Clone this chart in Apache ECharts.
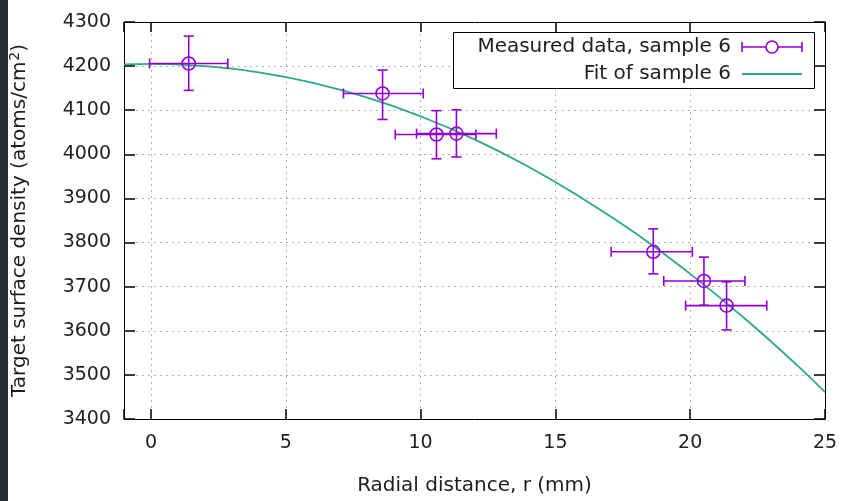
<!DOCTYPE html>
<html>
<head>
<meta charset="utf-8">
<script src="https://cdn.jsdelivr.net/npm/echarts@6/dist/echarts.min.js"></script>
<style>
html,body{margin:0;padding:0;background:#fff;}
#strip{position:absolute;left:0;top:0;width:8px;height:501px;background:#272b33;}
#c{position:absolute;left:0;top:0;width:841px;height:501px;}
</style>
</head>
<body>
<div id="c"></div>
<div id="strip"></div>
<script>
// Measured data (sample 6)
const measX    = [1.40, 8.59, 10.59, 11.33, 18.63, 20.51, 21.35];
const measY    = [4206, 4138, 4045, 4047, 3779, 3713, 3657];
const measXLow = [-0.05, 7.14, 9.06, 9.85, 17.07, 19.02, 19.83];
const measXHigh= [2.85, 10.10, 12.05, 12.81, 20.08, 22.03, 22.84];
const measYLow = [4145, 4079, 3990, 3994, 3729, 3658, 3602];
const measYHigh= [4268, 4191, 4099, 4101, 3831, 3767, 3711];

// Fit curve
const fitX = [-1, 0, 2, 4, 6, 8, 10, 12, 14, 16, 18, 20, 22, 24, 25];
const fitY = [4204, 4205, 4200, 4186, 4162, 4129, 4086, 4034, 3972, 3900, 3820, 3729, 3629, 3520, 3461];

const xTicks = [0, 5, 10, 15, 20, 25];
const yTicks = [3400, 3500, 3600, 3700, 3800, 3900, 4000, 4100, 4200, 4300];

const PURPLE = '#9400d3';
const GREEN = '#2aa98a';
const FONT = 'DejaVu Sans';
const TXT = '#1e1e1e';

const chart = echarts.init(document.getElementById('c'), null, {renderer: 'canvas'});

const errData = measX.map((x, i) => [x, measY[i], measXLow[i], measXHigh[i], measYLow[i], measYHigh[i]]);

function renderErr(params, api) {
  const c = api.coord([api.value(0), api.value(1)]);
  const xl = api.coord([api.value(2), api.value(1)]);
  const xh = api.coord([api.value(3), api.value(1)]);
  const yl = api.coord([api.value(0), api.value(4)]);
  const yh = api.coord([api.value(0), api.value(5)]);
  const cap = 5;
  const st = {stroke: PURPLE, lineWidth: 1.6};
  return {
    type: 'group',
    children: [
      {type: 'line', shape: {x1: xl[0], y1: c[1], x2: xh[0], y2: c[1]}, style: st},
      {type: 'line', shape: {x1: xl[0], y1: c[1]-cap, x2: xl[0], y2: c[1]+cap}, style: st},
      {type: 'line', shape: {x1: xh[0], y1: c[1]-cap, x2: xh[0], y2: c[1]+cap}, style: st},
      {type: 'line', shape: {x1: c[0], y1: yl[1], x2: c[0], y2: yh[1]}, style: st},
      {type: 'line', shape: {x1: c[0]-cap, y1: yl[1], x2: c[0]+cap, y2: yl[1]}, style: st},
      {type: 'line', shape: {x1: c[0]-cap, y1: yh[1], x2: c[0]+cap, y2: yh[1]}, style: st}
    ]
  };
}

const gridL = 123, gridT = 22, gridR = 16, gridB = 82;

const axLine = {show: true, onZero: false, lineStyle: {color: '#000', width: 1}};

const option = {
  animation: false,
  backgroundColor: '#ffffff',
  textStyle: {fontFamily: FONT},
  grid: {left: gridL, top: gridT, right: gridR, bottom: gridB, containLabel: false},
  xAxis: [{
    type: 'value', min: -1, max: 25, splitNumber: 5,
    name: 'Radial distance, r (mm)', nameLocation: 'middle', nameGap: 57,
    nameTextStyle: {fontFamily: FONT, fontSize: 20, color: TXT},
    axisLine: axLine,
    axisTick: {show: true, inside: true, length: 10, lineStyle: {color: '#000', width: 1.5}},
    axisLabel: {fontFamily: FONT, fontSize: 19, color: TXT, margin: 15,
      formatter: v => (xTicks.indexOf(v) >= 0 ? String(v) : '')},
    splitLine: {show: true, lineStyle: {color: '#b4b4b4', type: [2, 4], width: 1}}
  }, {
    type: 'value', min: -1, max: 25, splitNumber: 5, position: 'top',
    axisLine: axLine,
    axisTick: {show: true, inside: true, length: 10, lineStyle: {color: '#000', width: 1.5}},
    axisLabel: {show: false}, splitLine: {show: false}
  }],
  yAxis: [{
    type: 'value', min: 3400, max: 4300, interval: 100,
    name: 'Target surface density (atoms/cm{sup|2})', nameLocation: 'middle', nameGap: 92, nameRotate: 90,
    nameTextStyle: {fontFamily: FONT, fontSize: 20, color: TXT, lineHeight: 24,
      rich: {sup: {fontFamily: FONT, fontSize: 14, color: TXT, verticalAlign: 'top', lineHeight: 24, padding: [0, 0, 8, 1]}}},
    axisLine: axLine,
    axisTick: {show: true, inside: true, length: 11, lineStyle: {color: '#000', width: 1.5}},
    axisLabel: {fontFamily: FONT, fontSize: 19, color: TXT, margin: 13,
      formatter: v => (yTicks.indexOf(v) >= 0 ? String(v) : '')},
    splitLine: {show: true, lineStyle: {color: '#b4b4b4', type: [2, 4], width: 1}}
  }, {
    type: 'value', min: 3400, max: 4300, interval: 100, position: 'right',
    axisLine: axLine,
    axisTick: {show: true, inside: true, length: 11, lineStyle: {color: '#000', width: 1.5}},
    axisLabel: {show: false}, splitLine: {show: false}
  }],
  series: [{
    name: 'Fit of sample 6', type: 'line', smooth: true, showSymbol: false,
    data: fitX.map((x, i) => [x, fitY[i]]),
    lineStyle: {color: GREEN, width: 1.8}, z: 2
  }, {
    name: 'Measured data, sample 6 (error)', type: 'custom', renderItem: renderErr,
    data: errData, encode: {x: 0, y: 1}, z: 3
  }, {
    name: 'Measured data, sample 6', type: 'scatter', symbol: 'circle', symbolSize: 13,
    data: measX.map((x, i) => [x, measY[i]]),
    itemStyle: {color: 'rgba(0,0,0,0)', borderColor: PURPLE, borderWidth: 1.6, opacity: 1}, z: 4
  }],
  graphic: [
    {type: 'rect', shape: {x: 453.5, y: 32.5, width: 361, height: 56},
     style: {fill: '#fff', stroke: '#000', lineWidth: 1}, z: 100},
    {type: 'text', x: 731, y: 47, z: 101,
     style: {text: 'Measured data, sample 6', font: '20px "DejaVu Sans"', fill: TXT, align: 'right', verticalAlign: 'middle'}},
    {type: 'text', x: 731, y: 74, z: 101,
     style: {text: 'Fit of sample 6', font: '20px "DejaVu Sans"', fill: TXT, align: 'right', verticalAlign: 'middle'}},
    {type: 'line', shape: {x1: 742, y1: 47, x2: 802, y2: 47}, style: {stroke: PURPLE, lineWidth: 1.6}, z: 101},
    {type: 'line', shape: {x1: 742, y1: 42, x2: 742, y2: 52}, style: {stroke: PURPLE, lineWidth: 1.6}, z: 101},
    {type: 'line', shape: {x1: 802, y1: 42, x2: 802, y2: 52}, style: {stroke: PURPLE, lineWidth: 1.6}, z: 101},
    {type: 'circle', shape: {cx: 772, cy: 47, r: 6}, style: {fill: '#fff', stroke: PURPLE, lineWidth: 1.6}, z: 102},
    {type: 'line', shape: {x1: 742, y1: 74, x2: 802, y2: 74}, style: {stroke: GREEN, lineWidth: 1.8}, z: 101}
  ]
};
chart.setOption(option);
</script>
</body>
</html>
